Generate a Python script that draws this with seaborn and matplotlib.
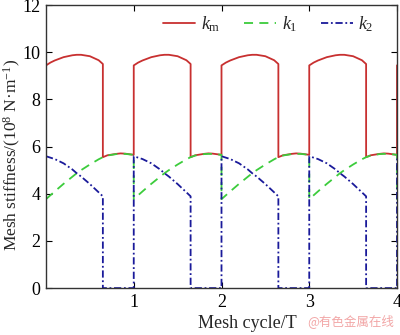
import numpy as np
import pandas as pd
import matplotlib
matplotlib.use("Agg")
import matplotlib.pyplot as plt
import seaborn as sns

# ---- data (one mesh cycle, repeated for cycles 0..4) ----
cycles = [0, 1, 2, 3, 4]

km_t = [0.0, 0.05, 0.1, 0.2, 0.3, 0.35, 0.4, 0.5, 0.6, 0.648,
        0.648, 0.7, 0.8, 0.85, 0.9, 1.0]
km_v = [9.44, 9.56, 9.65, 9.79, 9.87, 9.89, 9.89, 9.83, 9.66, 9.50,
        5.55, 5.63, 5.69, 5.71, 5.70, 5.65]

k1_t = [0.0, 0.1, 0.2, 0.3, 0.35, 0.4, 0.5, 0.6, 0.648, 0.7, 0.8, 0.85, 0.9, 1.0]
k1_v = [3.77, 4.10, 4.42, 4.72, 4.87, 5.00, 5.24, 5.46, 5.55, 5.62, 5.68, 5.69, 5.69, 5.65]

k2_t = [0.0, 0.1, 0.2, 0.3, 0.35, 0.4, 0.5, 0.6, 0.648, 0.648, 1.0]
k2_v = [5.59, 5.47, 5.29, 5.03, 4.87, 4.73, 4.41, 4.06, 3.89, 0.0, 0.0]

x_ticks = [1, 2, 3, 4]
y_ticks = [0, 2, 4, 6, 8, 10, 12]

series_names = ["$k_{\\rm m}$", "$k_1$", "$k_2$"]
colors = ["#c83030", "#3ccc3c", "#1a1a9a"]


def build(ts, vs):
    xs, ys = [], []
    for c in cycles:
        xs.extend([t + c for t in ts])
        ys.extend(vs)
    return xs, ys


sns.set_theme(style="white")
plt.rcParams["font.family"] = ["Liberation Serif", "DejaVu Serif"]
plt.rcParams["mathtext.fontset"] = "custom"
plt.rcParams["mathtext.rm"] = "Liberation Serif"
plt.rcParams["mathtext.it"] = "Liberation Serif:italic"
plt.rcParams["mathtext.bf"] = "Liberation Serif:bold"

fig = plt.figure(figsize=(4.0, 3.35), dpi=100)
ax = fig.add_axes([0.115, 0.14, 0.8775, 0.845])

styles = [dict(linestyle="-"),
          dict(dashes=(5, 3.5)),
          dict(dashes=(4, 1.5, 1, 1.5))]

for (ts, vs), name, col, st in zip([(km_t, km_v), (k1_t, k1_v), (k2_t, k2_v)],
                                   series_names, colors, styles):
    xs, ys = build(ts, vs)
    df = pd.DataFrame({"x": xs, "y": ys})
    sns.lineplot(data=df, x="x", y="y", estimator=None, sort=False,
                 color=col, linewidth=1.3, label=name, ax=ax, **st)

ax.set_xlim(0, 4)
ax.set_ylim(0, 12)
ax.set_xticks(x_ticks)
ax.set_yticks(y_ticks)
ax.tick_params(direction="in", length=4, width=0.8, labelsize=13,
               top=True, right=True, left=True, bottom=True, colors="black",
               pad=4)
for sp in ax.spines.values():
    sp.set_color("#333333")
    sp.set_linewidth(1.0)

ax.set_xlabel("Mesh cycle/T", fontsize=13)
ax.xaxis.set_label_coords(0.573, -0.095)
ax.set_ylabel("Mesh stiffness/(10$^8$ N·m$^{-1}$)", fontsize=12.5)
ax.yaxis.set_label_coords(-0.066, 0.47)

leg = ax.legend(loc="center right", ncol=3, frameon=False, fontsize=13,
                bbox_to_anchor=(0.935, 0.928), bbox_transform=fig.transFigure,
                borderaxespad=0, borderpad=0, handlelength=1.8,
                handletextpad=0.3, columnspacing=1.3)

fig.text(0.985, 0.02, "@有色金属在线", color="#f2a6a6", fontsize=9,
         ha="right", va="bottom", family=["Noto Sans CJK SC", "DejaVu Sans"])

fig.savefig("out.png", dpi=100)
